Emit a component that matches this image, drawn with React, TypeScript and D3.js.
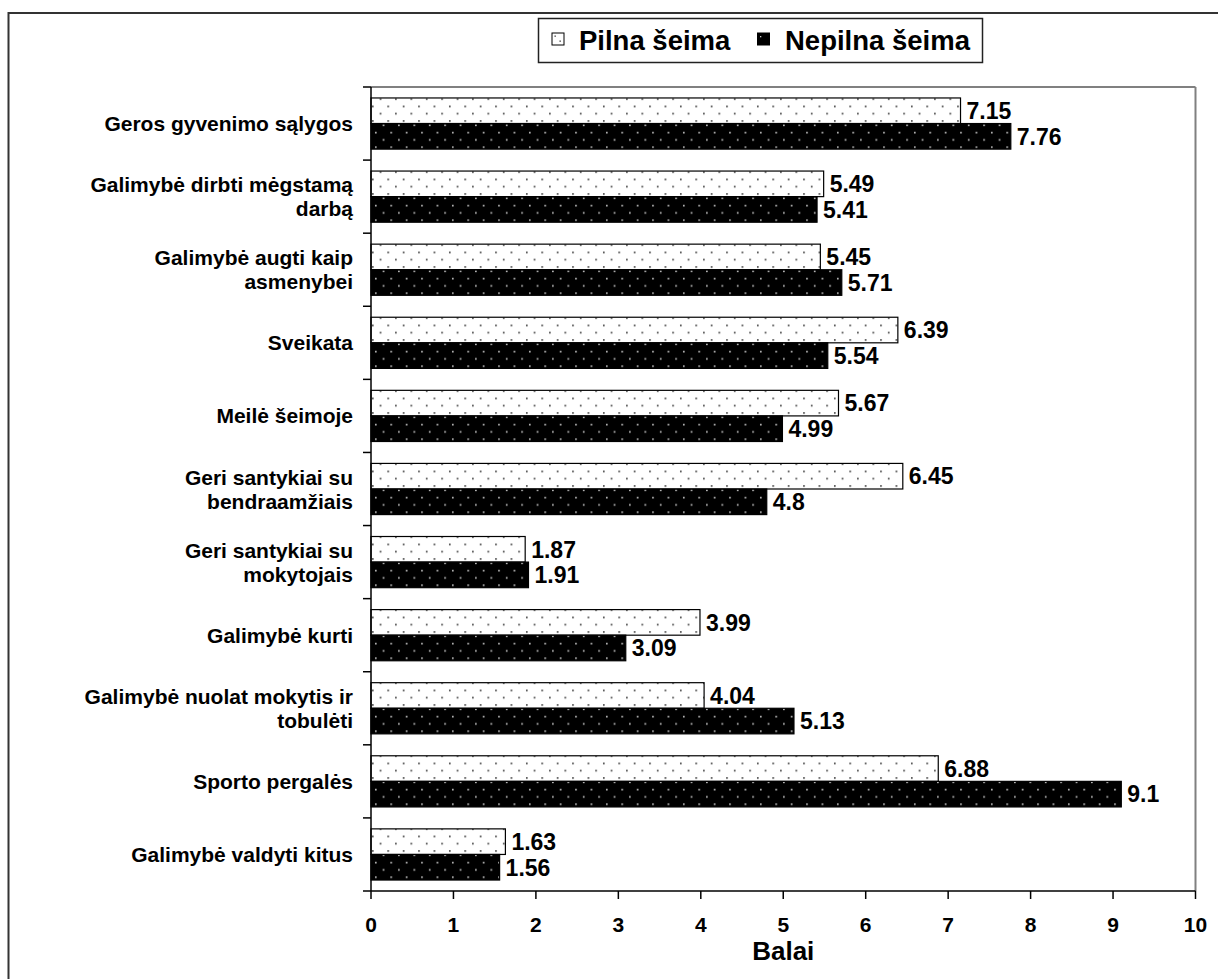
import React from "react";
import * as d3 from "d3";

// Category labels (one array entry per line of the wrapped label)
const categories: string[][] = [
  ["Geros gyvenimo sąlygos"],
  ["Galimybė dirbti mėgstamą", "darbą"],
  ["Galimybė augti kaip", "asmenybei"],
  ["Sveikata"],
  ["Meilė šeimoje"],
  ["Geri santykiai su", "bendraamžiais"],
  ["Geri santykiai su", "mokytojais"],
  ["Galimybė kurti"],
  ["Galimybė nuolat mokytis ir", "tobulėti"],
  ["Sporto pergalės"],
  ["Galimybė valdyti kitus"],
];

const seriesNames = ["Pilna šeima", "Nepilna šeima"];

const pilna: number[] = [7.15, 5.49, 5.45, 6.39, 5.67, 6.45, 1.87, 3.99, 4.04, 6.88, 1.63];
const nepilna: string[] = ["7.76", "5.41", "5.71", "5.54", "4.99", "4.8", "1.91", "3.09", "5.13", "9.1", "1.56"];

const xTicks = [0, 1, 2, 3, 4, 5, 6, 7, 8, 9, 10];
const axisTitle = "Balai";

const W = 1218;
const H = 979;
const plot = { left: 371, right: 1195.5, top: 87, bottom: 891 };
const FONT = "'Liberation Sans', Arial, Helvetica, sans-serif";

export default function App() {
  const values: number[][] = [pilna, nepilna.map(Number)];
  const labels: string[][] = [pilna.map(String), nepilna];

  const x = d3.scaleLinear().domain([0, 10]).range([plot.left, plot.right]);
  const idx = categories.map((_, i) => i);
  const y = d3
    .scaleBand<number>()
    .domain(idx)
    .range([plot.top, plot.bottom])
    .paddingInner(0.3)
    .paddingOuter(0.15);
  const sub = d3.scaleBand<number>().domain([0, 1]).range([0, y.bandwidth()]);
  const step = y.step();
  const boundaries = d3.range(categories.length + 1).map((i) => plot.top + i * step);

  const fills = ["url(#dotsLight)", "url(#dotsDark)"];

  return (
    <svg
      width={W}
      height={H}
      style={{ position: "absolute", left: 0, top: 0, background: "#fff" }}
      fontFamily={FONT}
      fontWeight="bold"
    >
      <defs>
        <pattern id="dotsLight" patternUnits="userSpaceOnUse" width={15.4} height={14.6} x={plot.left} y={plot.top + 3}>
          <rect width={15.4} height={14.6} fill="#fff" />
          <rect x={1} y={1} width={1.6} height={1.6} fill="#333" />
          <rect x={8.7} y={8.3} width={1.6} height={1.6} fill="#333" />
        </pattern>
        <pattern id="dotsDark" patternUnits="userSpaceOnUse" width={15.4} height={14.6} x={plot.left + 3} y={plot.top}>
          <rect width={15.4} height={14.6} fill="#000" />
          <rect x={1} y={1} width={1.6} height={1.6} fill="#ccc" />
          <rect x={8.7} y={8.3} width={1.6} height={1.6} fill="#ccc" />
        </pattern>
      </defs>

      {/* outer frame */}
      <rect x={8.5} y={13} width={1230} height={1000} fill="none" stroke="#333" strokeWidth={2} />

      {/* legend */}
      <g>
        <rect x={538.5} y={18.5} width={444} height={44} fill="#fff" stroke="#222" strokeWidth={1.5} />
        <rect x={552} y={33} width={12} height={12} fill="#fff" stroke="#000" strokeWidth={1} />
        <rect x={554.5} y={35.5} width={1.3} height={1.3} fill="#333" />
        <rect x={559.5} y={40.5} width={1.3} height={1.3} fill="#333" />
        <text x={579} y={50} fontSize={27.5} fill="#000">{seriesNames[0]}</text>
        <rect x={757} y={32.5} width={13} height={13} fill="#000" />
        <rect x={760} y={36} width={1.3} height={1.3} fill="#ccc" />
        <text x={785} y={50} fontSize={27.5} fill="#000">{seriesNames[1]}</text>
      </g>

      {/* plot area border */}
      <line x1={plot.left} x2={plot.right} y1={plot.top} y2={plot.top} stroke="#808080" strokeWidth={2} />
      <line x1={plot.right} x2={plot.right} y1={plot.top} y2={plot.bottom} stroke="#808080" strokeWidth={2} />

      {/* bars */}
      {idx.map((i) =>
        [0, 1].map((s) => {
          const v = values[s][i];
          const by = (y(i) as number) + (sub(s) as number);
          const bh = sub.bandwidth();
          return (
            <g key={`${i}-${s}`}>
              <rect
                x={x(0)}
                y={by}
                width={x(v) - x(0)}
                height={bh}
                fill={fills[s]}
                stroke="#000"
                strokeWidth={1.2}
              />
              <text
                x={x(v) + 6}
                y={by + bh / 2}
                dy="0.36em"
                fontSize={23}
                fill="#000"
              >
                {labels[s][i]}
              </text>
            </g>
          );
        })
      )}

      {/* y axis with category ticks */}
      <line x1={plot.left} x2={plot.left} y1={plot.top} y2={plot.bottom} stroke="#000" strokeWidth={1.5} />
      {boundaries.map((b, i) => (
        <line key={i} x1={plot.left - 8} x2={plot.left} y1={b} y2={b} stroke="#000" strokeWidth={1.5} />
      ))}

      {/* category labels */}
      {categories.map((lines, i) => {
        const c = (y(i) as number) + y.bandwidth() / 2;
        const lh = 24;
        const y0 = c - ((lines.length - 1) * lh) / 2;
        return (
          <text key={i} x={353} textAnchor="end" fontSize={21} fill="#000">
            {lines.map((l, k) => (
              <tspan key={k} x={353} y={y0 + k * lh} dy="0.36em">
                {l}
              </tspan>
            ))}
          </text>
        );
      })}

      {/* x axis */}
      <line x1={plot.left} x2={plot.right} y1={plot.bottom} y2={plot.bottom} stroke="#000" strokeWidth={1.5} />
      {xTicks.map((t) => (
        <g key={t}>
          <line x1={x(t)} x2={x(t)} y1={plot.bottom} y2={plot.bottom + 8} stroke="#000" strokeWidth={1.5} />
          <text x={x(t)} y={932} textAnchor="middle" fontSize={21} fill="#000">
            {t}
          </text>
        </g>
      ))}
      <text x={(plot.left + plot.right) / 2} y={960} textAnchor="middle" fontSize={26} fill="#000">
        {axisTitle}
      </text>
    </svg>
  );
}
